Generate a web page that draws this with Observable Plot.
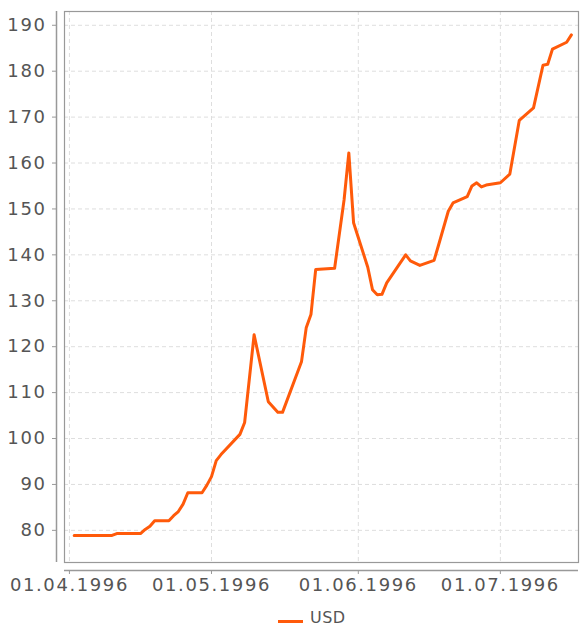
<!DOCTYPE html>
<html>
<head>
<meta charset="utf-8">
<script src="https://cdn.jsdelivr.net/npm/d3@7"></script>
<script src="https://cdn.jsdelivr.net/npm/@observablehq/plot@0.6"></script>
<style>
  html, body { margin: 0; padding: 0; background: #fff; overflow: hidden; }
  #chart { width: 580px; }
  #chart svg text { letter-spacing: 1.6px; }
  #legend { height: 23px; position: relative; font-family: "DejaVu Sans", sans-serif; font-size: 16px; line-height: 16px; color: #555; }
  #legend .sw { position: absolute; left: 278px; top: 15px; width: 25px; height: 3px; }
  #legend .lb { position: absolute; left: 310px; top: 5px; letter-spacing: 0.5px; }
</style>
</head>
<body>
<div id="chart"></div>
<script>
const seriesName = "USD";
const lineColor = "#ff5a0a";

const dates = [
  "1996-04-02","1996-04-10","1996-04-11","1996-04-16","1996-04-17","1996-04-18","1996-04-19",
  "1996-04-22","1996-04-23","1996-04-24","1996-04-25","1996-04-26","1996-04-29","1996-04-30",
  "1996-05-01","1996-05-02","1996-05-03","1996-05-07","1996-05-08","1996-05-10","1996-05-13",
  "1996-05-15","1996-05-16","1996-05-20","1996-05-21","1996-05-22","1996-05-23","1996-05-27",
  "1996-05-29","1996-05-30","1996-05-31","1996-06-03","1996-06-04","1996-06-05","1996-06-06",
  "1996-06-07","1996-06-11","1996-06-12","1996-06-14","1996-06-17","1996-06-18","1996-06-20",
  "1996-06-21","1996-06-24","1996-06-25","1996-06-26","1996-06-27","1996-06-28","1996-07-01",
  "1996-07-03","1996-07-05","1996-07-08","1996-07-10","1996-07-11","1996-07-12","1996-07-15",
  "1996-07-16"
];
const usd = [
  78.9, 78.9, 79.3, 79.3, 80.2, 80.9, 82.1,
  82.1, 83.2, 84.1, 85.7, 88.2, 88.2, 89.8,
  91.7, 95.2, 96.5, 100.9, 103.5, 122.6, 108.0,
  105.7, 105.7, 116.7, 124.1, 127.0, 136.8, 137.1,
  152.0, 162.2, 147.0, 137.3, 132.4, 131.3, 131.4,
  133.9, 140.0, 138.7, 137.7, 138.8, 142.3, 149.5,
  151.3, 152.7, 155.0, 155.7, 154.8, 155.2, 155.7,
  157.6, 169.3, 172.0, 181.3, 181.5, 184.8, 186.3,
  187.9
];
const yTicks = [80, 90, 100, 110, 120, 130, 140, 150, 160, 170, 180, 190];
const xTickDates = ["1996-04-01", "1996-05-01", "1996-06-01", "1996-07-01"];
const xDomainStr = ["1996-03-30T23:00:00Z", "1996-07-17T12:00:00Z"];
const yDomain = [73, 193];

const data = dates.map((d, i) => ({date: new Date(d), value: usd[i]}));
const xTicks = xTickDates.map(d => new Date(d));
const xDomain = xDomainStr.map(d => new Date(d));
const fmt = d3.utcFormat("%d.%m.%Y");

const axisColor = "#999";
const textColor = "#555";

const chart = Plot.plot({
  width: 580,
  height: 605,
  marginLeft: 64,
  marginRight: 2,
  marginTop: 11,
  marginBottom: 43,
  style: { fontFamily: "'DejaVu Sans', sans-serif", fontSize: "18px", color: textColor, background: "#fff" },
  x: { type: "utc", domain: xDomain },
  y: { domain: yDomain },
  marks: [
    Plot.gridY(yTicks, { stroke: "#dedede", strokeOpacity: 1, strokeDasharray: "4,3" }),
    Plot.gridX(xTicks, { stroke: "#dedede", strokeOpacity: 1, strokeDasharray: "4,3" }),
    Plot.frame({ stroke: axisColor, strokeWidth: 1.2 }),
    Plot.ruleX([xDomain[0]], { dx: -8, stroke: axisColor, strokeWidth: 1.5 }),
    Plot.ruleY([yDomain[0]], { dy: 8, stroke: axisColor, strokeWidth: 1.5 }),
    Plot.axisY(yTicks, { dx: -8, tickSize: 4, tickPadding: 6, stroke: axisColor, fill: textColor, label: null }),
    Plot.axisX(xTicks, { dy: 8, tickSize: 4, tickPadding: 4, stroke: axisColor, fill: textColor, label: null, tickFormat: fmt }),
    Plot.lineY(data, { x: "date", y: "value", stroke: lineColor, strokeWidth: 3, strokeLinejoin: "round" })
  ]
});
document.getElementById("chart").appendChild(chart);

const legend = document.createElement("div");
legend.id = "legend";
legend.innerHTML = `<span class="sw" style="background:${lineColor}"></span><span class="lb">${seriesName}</span>`;
document.body.appendChild(legend);
</script>
</body>
</html>
